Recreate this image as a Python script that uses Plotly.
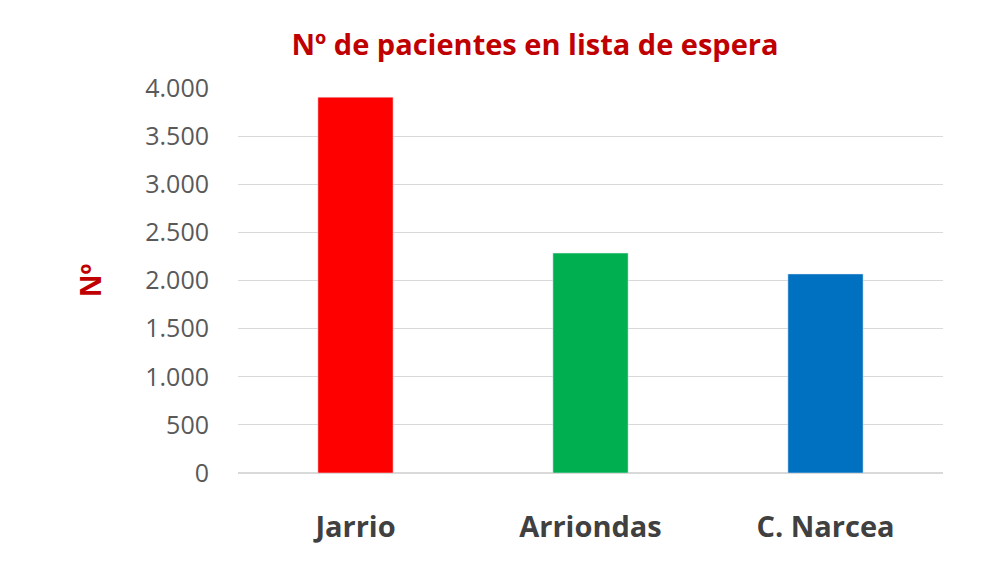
import plotly.graph_objects as go

categories = ["Jarrio", "Arriondas", "C. Narcea"]
values = [3905, 2285, 2068]
colors = ["#FF0000", "#00B050", "#0070C0"]

fig = go.Figure(go.Bar(x=categories, y=values, marker_color=colors, width=0.32))
fig.update_layout(
    width=1000, height=567,
    paper_bgcolor="white", plot_bgcolor="white",
    margin=dict(l=230, r=65, t=80, b=102, autoexpand=False),
    separators=",.",
    showlegend=False,
    title=dict(text="<b>Nº de pacientes en lista de espera</b>", x=0.527, xanchor="center",
               y=0.935, yanchor="middle",
               font=dict(family="Open Sans, DejaVu Sans", size=29, color="#C00000")),
    font=dict(family="Open Sans, DejaVu Sans"),
)
fig.update_yaxes(range=[0, 4000], dtick=500, tickformat=",d", showgrid=True, automargin=False,
                 gridcolor="#D9D9D9", gridwidth=1, zeroline=True, zerolinecolor="#D9D9D9",
                 tickfont=dict(size=25, color="#595959"), ticks="", ticklabelstandoff=28,
                 title=dict(text="<b>Nº</b>", font=dict(size=28, color="#C00000"), standoff=35))
fig.update_xaxes(showline=False, automargin=False, tickfont=dict(size=29, color="#404040"),
                 tickprefix="<b>", ticksuffix="</b>", ticks="outside", tickcolor="white",
                 ticklen=28)
fig.write_html("out.html")
